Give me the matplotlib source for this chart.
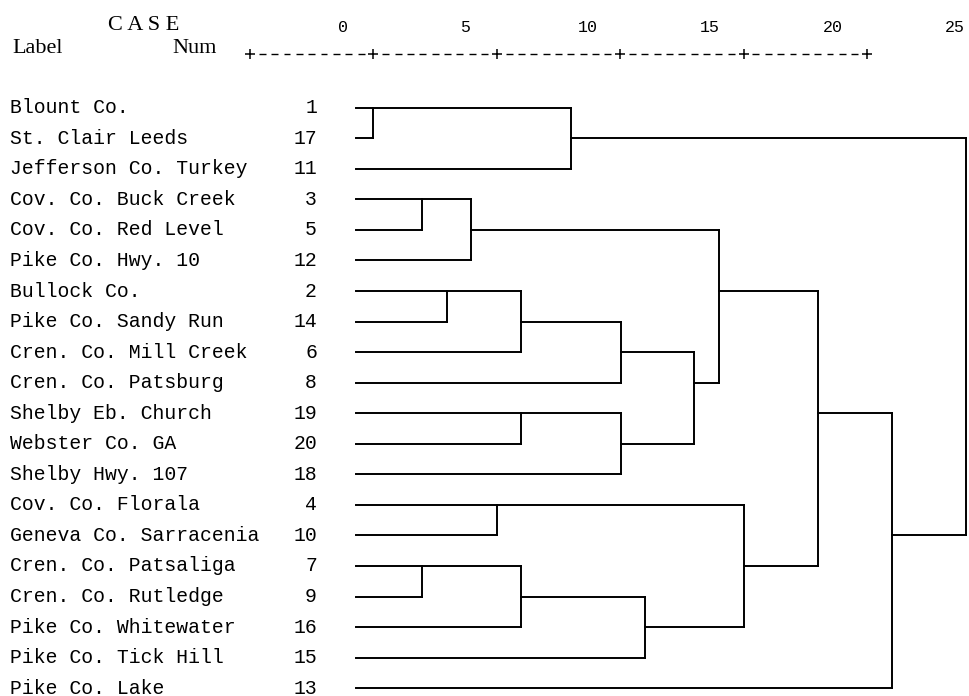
import matplotlib
matplotlib.use("Agg")
import numpy as np
import matplotlib.pyplot as plt
from matplotlib.transforms import blended_transform_factory, ScaledTranslation

# Cases in dendrogram order (top to bottom)
case_labels = [
    "Blount Co.", "St. Clair Leeds", "Jefferson Co. Turkey",
    "Cov. Co. Buck Creek", "Cov. Co. Red Level", "Pike Co. Hwy. 10",
    "Bullock Co.", "Pike Co. Sandy Run", "Cren. Co. Mill Creek",
    "Cren. Co. Patsburg", "Shelby Eb. Church", "Webster Co. GA",
    "Shelby Hwy. 107", "Cov. Co. Florala", "Geneva Co. Sarracenia",
    "Cren. Co. Patsaliga", "Cren. Co. Rutledge", "Pike Co. Whitewater",
    "Pike Co. Tick Hill", "Pike Co. Lake",
]
case_nums = [1, 17, 11, 3, 5, 12, 2, 14, 6, 8, 19, 20, 18, 4, 10, 7, 9, 16, 15, 13]

# Agglomeration steps: leaves are 0..19 (row order), new clusters get ids 20, 21, ...
# (child_a, child_b, rescaled distance, row where the joined cluster's line leaves)
merge_a    = [0, 20, 3, 22, 6, 24, 25, 10, 27, 26, 23, 13, 15, 32, 33, 31, 30, 36, 21]
merge_b    = [1, 2, 4, 5, 7, 8, 9, 11, 12, 28, 29, 14, 16, 17, 18, 34, 35, 19, 37]
merge_dist = [0.71, 8.80, 2.72, 4.73, 3.74, 6.75, 10.86, 6.75, 10.86, 13.84,
              14.89, 5.77, 2.72, 6.75, 11.83, 15.90, 18.95, 21.98, 25.00]
merge_row  = [0, 1, 3, 4, 6, 7, 8, 10, 11, 9, 6, 13, 15, 16, 17, 15, 10, 14, None]

scale_ticks = [0, 5, 10, 15, 20, 25]

W, H = 969, 696
fig = plt.figure(figsize=(W / 100, H / 100), dpi=100)
fig.patch.set_facecolor("white")


def fx(px):
    return px / W


def fy(py):
    return 1 - py / H


mono = "Liberation Mono"
serif = "Liberation Serif"

# Dendrogram panel
ax = fig.add_axes([fx(356), fy(688.2), fx(966) - fx(356), fy(107.7) - fy(688.2)])
ax.set_xlim(0, 25)
ax.set_ylim(len(case_labels) - 1, 0)
ax.axis("off")

n = len(case_labels)
node_x = {i: 0.0 for i in range(n)}
node_row = {i: i for i in range(n)}
lw = 1.4
for k, (a, b, d, r) in enumerate(zip(merge_a, merge_b, merge_dist, merge_row)):
    for c in (a, b):
        ax.plot([node_x[c], d], [node_row[c], node_row[c]], color="black",
                lw=lw, solid_capstyle="projecting", clip_on=False)
    ax.plot([d, d], [node_row[a], node_row[b]], color="black", lw=lw,
            solid_capstyle="projecting", clip_on=False)
    new_id = n + k
    node_x[new_id] = d
    node_row[new_id] = r

# Case labels and numbers
row_trans = blended_transform_factory(fig.transFigure, ax.transData) + \
    ScaledTranslation(0, -5.5 / 100, fig.dpi_scale_trans)
for i, (lab, num) in enumerate(zip(case_labels, case_nums)):
    fig.text(fx(9.5), i, lab, transform=row_trans, family=mono, fontsize=14.2,
             ha="left", va="baseline", color="black")
    fig.text(fx(317), i, str(num), transform=row_trans, family=mono, fontsize=14.2,
             ha="right", va="baseline", color="black")

# Header
fig.text(fx(108), fy(30), "C A S E", family=serif, fontsize=16,
         ha="left", va="baseline")
fig.text(fx(12), fy(53), "Label", family=serif, fontsize=16,
         ha="left", va="baseline")
fig.text(fx(172), fy(53), "Num", family=serif, fontsize=16,
         ha="left", va="baseline")

# Rescaled distance scale: tick numbers
ax_t = fig.add_axes([fx(343), fy(32), fx(955) - fx(343), 1 / H])
ax_t.set_xlim(0, 25)
ax_t.set_ylim(0, 1)
ax_t.axis("off")
for v in scale_ticks:
    ax_t.text(v, 0, str(v), family=mono, fontsize=12, ha="center", va="baseline")

# Rescaled distance scale: +----+ ruler
ax_s = fig.add_axes([fx(250), fy(60), fx(867) - fx(250), 12 / H])
ax_s.set_xlim(0, 25)
ax_s.set_ylim(-1, 1)
ax_s.axis("off")
ax_s.plot(scale_ticks, [0] * len(scale_ticks), ls="none", marker="+",
          ms=7.5, mew=1.1, color="black", clip_on=False)
dash_pos = [v for v in np.arange(0.5, 25, 0.5) if v % 5 != 0]
ax_s.hlines([0] * len(dash_pos), [v - 0.14 for v in dash_pos],
            [v + 0.14 for v in dash_pos], color="black", lw=1.0)

fig.savefig("out.png", dpi=100, facecolor="white")
